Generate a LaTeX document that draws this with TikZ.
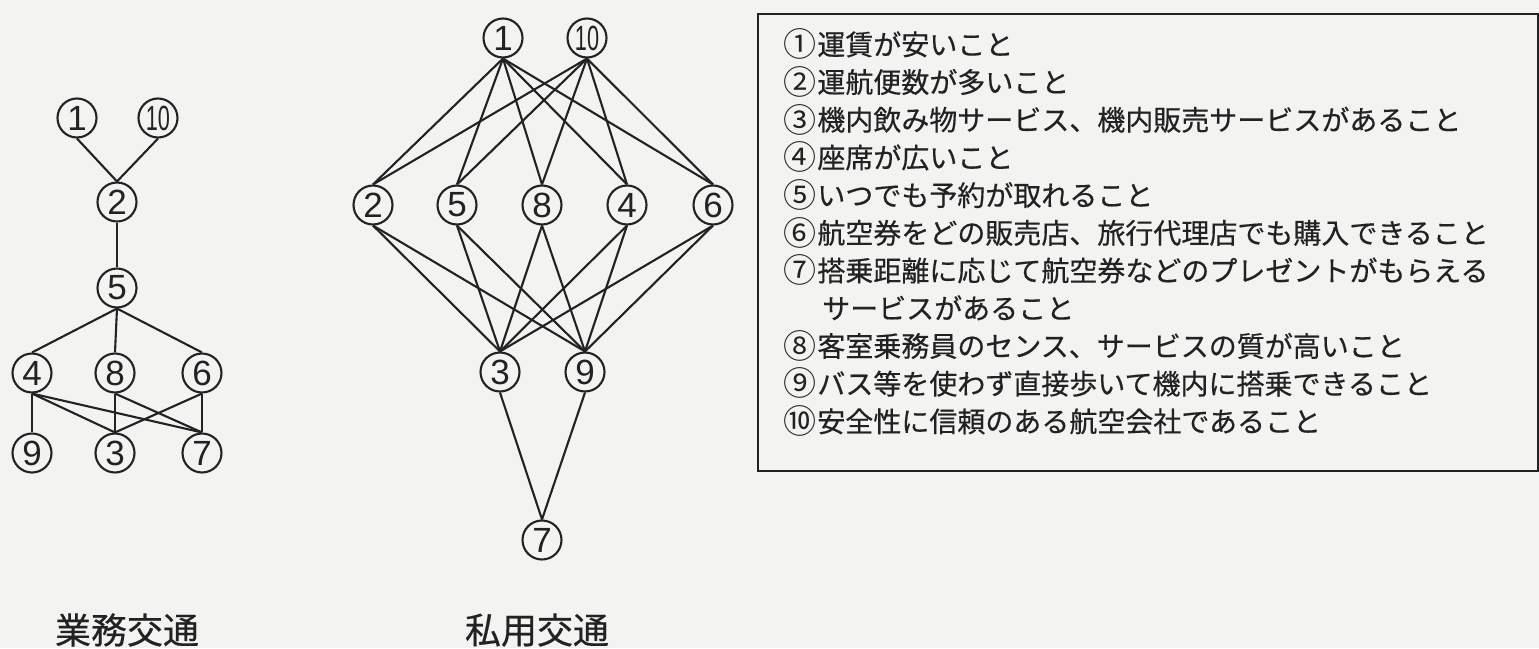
\documentclass[tikz,border=0pt]{standalone}
\usepackage{fontspec}
\usepackage{graphicx}
\setmainfont{Noto Sans CJK JP}[FakeBold=0.4]
\newfontfamily\plaincjk{Noto Sans CJK JP}
\newfontfamily\digitfont{Liberation Sans}
\definecolor{paper}{RGB}{243,243,241}
\definecolor{ink}{RGB}{34,34,34}
\newcommand{\ten}{\scalebox{0.62}[1]{10}}
\newcommand{\cnum}[1]{\raisebox{-0.06em}{\scalebox{1.18}{\plaincjk #1}}\hspace{0.04em}}
\begin{document}
\begin{tikzpicture}[x=1pt,y=-1pt,
  num/.style={circle,draw=ink,line width=2.1pt,minimum size=39pt,inner sep=0pt,
    font=\digitfont\fontsize{35}{35}\selectfont,text=ink},
  link/.style={draw=ink,line width=2.1pt},
  item/.style={anchor=base west,inner sep=0pt,font=\fontsize{28}{28}\selectfont,text=ink},
  caption/.style={inner sep=0pt,font=\fontsize{36}{36}\selectfont,text=ink},
  frame/.style={draw=ink,line width=2.1pt,inner sep=0pt,anchor=north west}]
\fill[paper] (0,0) rectangle (1539,648);
\useasboundingbox (0,0) rectangle (1539,648);

% ---------- business travel graph ----------
\node[num] (b1)  at (77,118)  {1};
\node[num] (b10) at (158,118) {\ten};
\node[num] (b2)  at (117,202) {2};
\node[num] (b5)  at (117,288) {5};
\node[num] (b4)  at (32,373)  {4};
\node[num] (b8)  at (115,373) {8};
\node[num] (b6)  at (202,373) {6};
\node[num] (b9)  at (32,453)  {9};
\node[num] (b3)  at (115,453) {3};
\node[num] (b7)  at (202,453) {7};
\foreach \a/\b in {b1/b2,b10/b2,b2/b5,b5/b4,b5/b8,b5/b6,b4/b9,b4/b3,b4/b7,b8/b3,b8/b7,b6/b3,b6/b7}
  \draw[link] (\a.south) -- (\b.north);
\node[caption] (bcap) at (127,630) {業務交通};

% ---------- private travel graph ----------
\node[num] (p1)  at (503,38)  {1};
\node[num] (p10) at (587,38)  {\ten};
\node[num] (p2)  at (373,205) {2};
\node[num] (p5)  at (457,205) {5};
\node[num] (p8)  at (542,205) {8};
\node[num] (p4)  at (627,205) {4};
\node[num] (p6)  at (713,205) {6};
\node[num] (p3)  at (500,372) {3};
\node[num] (p9)  at (585,372) {9};
\node[num] (p7)  at (542,540) {7};
\foreach \t in {p1,p10}
  \foreach \m in {p2,p5,p8,p4,p6}
    \draw[link] (\t.south) -- (\m.north);
\foreach \m in {p2,p5,p8,p4,p6}
  \foreach \u in {p3,p9}
    \draw[link] (\m.south) -- (\u.north);
\draw[link] (p3.south) -- (p7.north);
\draw[link] (p9.south) -- (p7.north);
\node[caption] (pcap) at (537,630) {私用交通};

% ---------- legend ----------
\node[frame,minimum width=780pt,minimum height=457pt] (legend) at (757,13) {};
\node[item] (l1)  at (783,55)    {\cnum{①}運賃が安いこと};
\node[item] (l2)  at (783,92.7)  {\cnum{②}運航便数が多いこと};
\node[item] (l3)  at (783,130.4) {\cnum{③}機内飲み物サービス、機内販売サービスがあること};
\node[item] (l4)  at (783,168.1) {\cnum{④}座席が広いこと};
\node[item] (l5)  at (783,205.8) {\cnum{⑤}いつでも予約が取れること};
\node[item] (l6)  at (783,243.5) {\cnum{⑥}航空券をどの販売店、旅行代理店でも購入できること};
\node[item] (l7)  at (783,281.2) {\cnum{⑦}搭乗距離に応じて航空券などのプレゼントがもらえる};
\node[item] (l7b) at (822,318.9) {サービスがあること};
\node[item] (l8)  at (783,356.6) {\cnum{⑧}客室乗務員のセンス、サービスの質が高いこと};
\node[item] (l9)  at (783,394.3) {\cnum{⑨}バス等を使わず直接歩いて機内に搭乗できること};
\node[item] (l10) at (783,432)   {\cnum{⑩}安全性に信頼のある航空会社であること};
\end{tikzpicture}
\end{document}
